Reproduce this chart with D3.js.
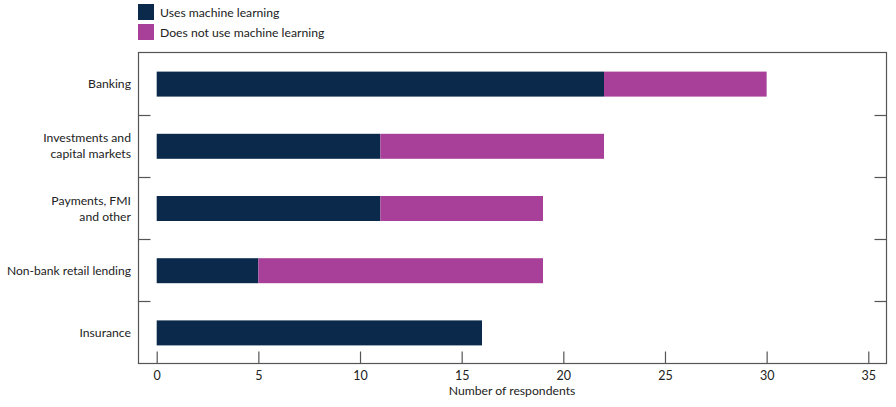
<!DOCTYPE html>
<html><head><meta charset="utf-8">
<script src="https://cdn.jsdelivr.net/npm/d3@7"></script>
<style>body{margin:0;background:#fff;} svg{display:block;font-family:Lato,"Open Sans",sans-serif;}</style>
</head><body><svg id="c" width="896" height="407"></svg>
<script>
const categories = ["Banking", "Investments and\ncapital markets", "Payments, FMI\nand other", "Non-bank retail lending", "Insurance"];
const usesML = [22, 11, 11, 5, 16];
const notML = [8, 11, 8, 14, 0];
const seriesNames = ["Uses machine learning", "Does not use machine learning"];
const xTicks = [0, 5, 10, 15, 20, 25, 30, 35];
const colors = ["#0b2a4b", "#a8409a"];

const FONT = 'Lato,"Open Sans",sans-serif';
const FS = 12.2;
const svg = d3.select("#c");
const L = 138.5, R = 886.5, T = 52.5, B = 363.5;
const x = d3.scaleLinear().domain([0, 35]).range([156.7, 868.3]);
const y = d3.scaleBand().domain(categories).range([T, B]).paddingInner(0).paddingOuter(0);
const bh = 25;
const axisColor = "#555";

// frame
svg.append("rect").attr("x", L).attr("y", T).attr("width", R - L).attr("height", B - T)
  .attr("fill", "none").attr("stroke", axisColor).attr("stroke-width", 1.2);

// separators
categories.slice(1).forEach(c => {
  const yy = Math.round(y(c)) + 0.5;
  svg.append("line").attr("x1", L).attr("x2", L + 12).attr("y1", yy).attr("y2", yy).attr("stroke", axisColor).attr("stroke-width", 1.2);
  svg.append("line").attr("x1", R - 12).attr("x2", R).attr("y1", yy).attr("y2", yy).attr("stroke", axisColor).attr("stroke-width", 1.2);
});

// x axis
const xa = d3.axisBottom(x).tickValues(xTicks).tickSize(0).tickPadding(0);
const g = svg.append("g").attr("transform", `translate(0,${B})`).call(xa);
g.select(".domain").remove();
g.selectAll(".tick line").attr("y1", 0).attr("y2", -12).attr("stroke", axisColor).attr("stroke-width", 1.2);
g.selectAll(".tick text").attr("y", 16).attr("dy", 0).attr("font-size", 12.5).attr("fill", "#222")
  .attr("font-family", FONT);

svg.append("text").attr("x", 512).attr("y", 395).attr("text-anchor", "middle")
  .attr("font-size", FS).attr("fill", "#222").text("Number of respondents");

// bars
const stacks = [usesML, notML];
categories.forEach((c, i) => {
  let acc = 0;
  stacks.forEach((s, k) => {
    const v = s[i];
    if (v > 0) {
      svg.append("rect").attr("x", x(acc)).attr("width", x(acc + v) - x(acc))
        .attr("y", y(c) + y.bandwidth() / 2 - bh / 2 + 0.5).attr("height", bh)
        .attr("fill", colors[k]);
    }
    acc += v;
  });
  const lines = c.split("\n");
  const cy = y(c) + y.bandwidth() / 2;
  const lh = 16;
  lines.forEach((ln, j) => {
    const t = svg.append("text").attr("x", 131).attr("y", cy + (j - (lines.length - 1) / 2) * lh + 4.5)
      .attr("text-anchor", "end").attr("font-size", FS).attr("fill", "#222").text(ln);
    const w = t.node().getComputedTextLength();
    if (w > 124) t.attr("textLength", 124).attr("lengthAdjust", "spacingAndGlyphs");
  });
});

// legend
seriesNames.forEach((n, k) => {
  svg.append("rect").attr("x", 138).attr("y", 4 + k * 20).attr("width", 16).attr("height", 16).attr("fill", colors[k]);
  svg.append("text").attr("x", 160).attr("y", 17 + k * 20).attr("font-size", FS).attr("fill", "#222").text(n);
});
</script></body></html>
